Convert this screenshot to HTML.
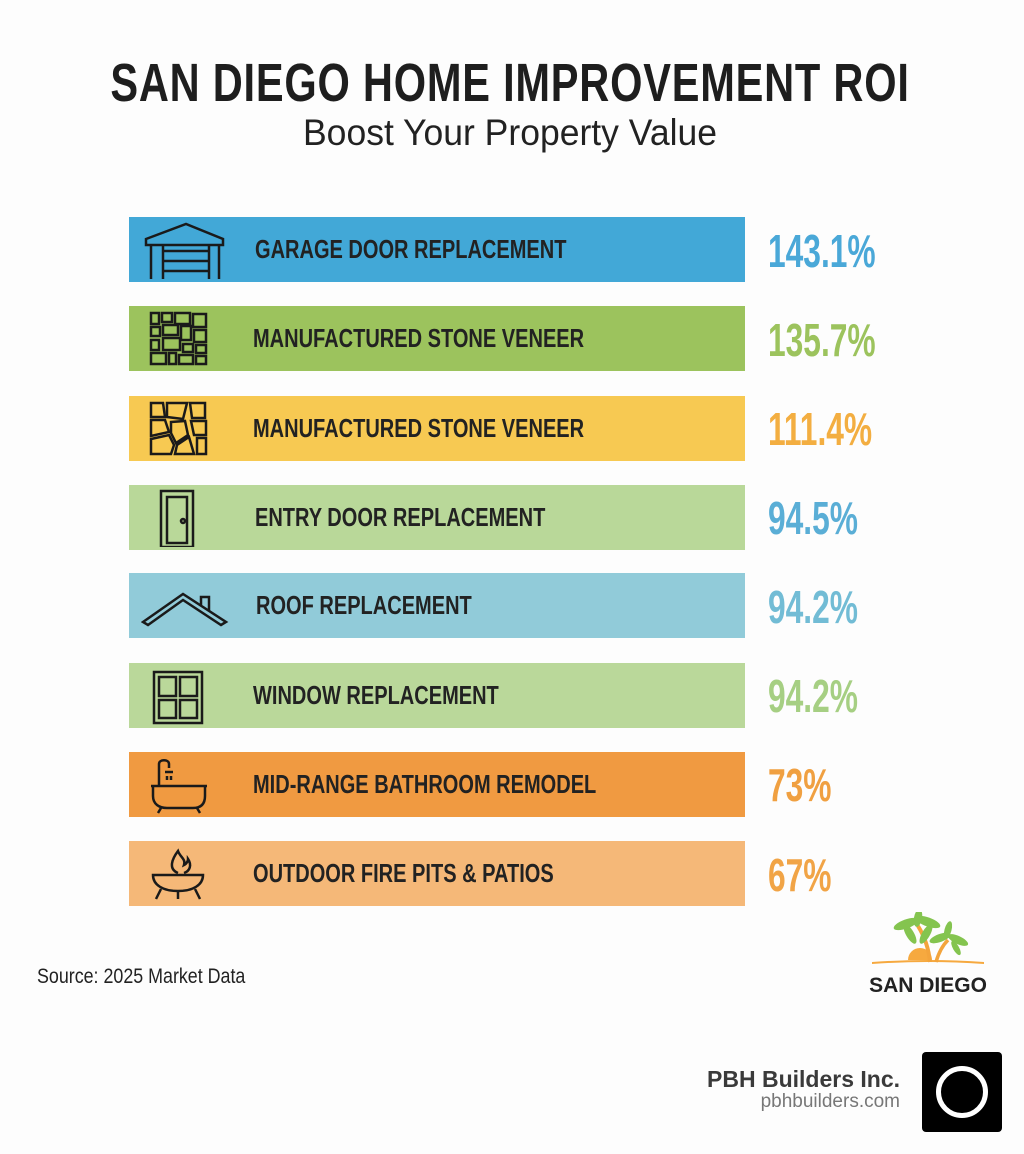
<!DOCTYPE html>
<html><head><meta charset="utf-8"><style>
body{margin:0;width:1024px;height:1154px;background:#fdfdfd;position:relative;overflow:hidden;font-family:"Liberation Sans",sans-serif}
.a{position:absolute;white-space:nowrap}
.t{left:510px;top:52px;font-size:54px;font-weight:bold;color:#1e1e1e;transform:translateX(-50%) scaleX(0.77);transform-origin:center;letter-spacing:1px}
.s{left:510px;top:112px;font-size:37px;color:#222;transform:translateX(-50%) scaleX(0.96)}
.bar{position:absolute;left:129px;width:616px;height:65px}
.lb{position:absolute;left:124px;top:17px;font-size:26px;font-weight:bold;color:#222;transform:scaleX(0.77);transform-origin:left}
.v{position:absolute;left:768px;font-size:46px;font-weight:bold;transform:scaleX(0.69);transform-origin:left}
.ic{position:absolute;left:12px;top:4px}
</style></head><body>
<div class="a t">SAN DIEGO HOME IMPROVEMENT ROI</div>
<div class="a s">Boost Your Property Value</div>

<div class="bar" style="top:217px;background:#42a8d7"><svg class="ic" width="90" height="58" viewBox="0 0 90 58" fill="none" stroke="#1a1a1a" stroke-width="2.5"><path d="M5 18 L45 3 L82 18 L82 24 L5 24 Z"/><path d="M10 24V60M22 24V60M68 24V60M78 24V60M22 30H68M22 40H68M22 50H68"/></svg><div class="lb" style="left:126px">GARAGE DOOR REPLACEMENT</div></div>
<div class="v" style="top:224px;color:#4aa8d8">143.1%</div>

<div class="bar" style="top:306px;background:#9cc35d"><svg class="ic" width="70" height="58" viewBox="0 0 70 58" fill="none" stroke="#1a1a1a" stroke-width="2.5"><rect x="10" y="3" width="8" height="11"/><rect x="21" y="3" width="10" height="9"/><rect x="34" y="3" width="15" height="11"/><rect x="52" y="4" width="13" height="13"/><rect x="10" y="17" width="9" height="9"/><rect x="22" y="15" width="15" height="10"/><rect x="40" y="16" width="10" height="14"/><rect x="53" y="20" width="12" height="12"/><rect x="10" y="30" width="8" height="10"/><rect x="22" y="28" width="17" height="12"/><rect x="42" y="34" width="10" height="8"/><rect x="55" y="35" width="10" height="8"/><rect x="10" y="43" width="15" height="11"/><rect x="28" y="43" width="7" height="11"/><rect x="38" y="45" width="14" height="9"/><rect x="55" y="46" width="10" height="8"/></svg><div class="lb">MANUFACTURED STONE VENEER</div></div>
<div class="v" style="top:313px;color:#9cc35d">135.7%</div>

<div class="bar" style="top:396px;background:#f7c952"><svg class="ic" width="70" height="58" viewBox="0 0 70 58" fill="none" stroke="#1a1a1a" stroke-width="2.5"><path d="M10 3h12l2 14h-14z"/><path d="M26 3h20l-4 16-16 -2z"/><path d="M49 3h15v15h-13z"/><path d="M10 20h14l4 12-18 4z"/><path d="M30 22l14-1 3 14-12 8-5-10z"/><path d="M50 21h15v14h-12z"/><path d="M10 39l18-4 5 10-3 9H10z"/><path d="M36 45l12-8 5 17H34z"/><path d="M56 38h9v16h-9z"/></svg><div class="lb">MANUFACTURED STONE VENEER</div></div>
<div class="v" style="top:402px;color:#f3ae41">111.4%</div>

<div class="bar" style="top:485px;background:#b9d899"><svg class="ic" width="70" height="58" viewBox="0 0 70 58" fill="none" stroke="#1a1a1a" stroke-width="2.5"><rect x="20" y="2" width="32" height="56"/><rect x="26" y="8" width="20" height="46"/><circle cx="42" cy="32" r="2"/></svg><div class="lb" style="left:126px">ENTRY DOOR REPLACEMENT</div></div>
<div class="v" style="top:491px;color:#5aaed6">94.5%</div>

<div class="bar" style="top:573px;background:#91cbd9"><svg class="ic" width="90" height="58" viewBox="0 0 90 58" fill="none" stroke="#1a1a1a" stroke-width="2.5"><path d="M2 45 L42 17 L85 45 L80 48 L42 23 L7 48 Z"/><path d="M60 28V20H68V34"/></svg><div class="lb" style="left:127px">ROOF REPLACEMENT</div></div>
<div class="v" style="top:580px;color:#72bcd5">94.2%</div>

<div class="bar" style="top:663px;background:#bad89a"><svg class="ic" width="70" height="58" viewBox="0 0 70 58" fill="none" stroke="#1a1a1a" stroke-width="2.5"><rect x="13" y="5" width="48" height="51"/><rect x="18" y="10" width="17" height="19"/><rect x="39" y="10" width="17" height="19"/><rect x="18" y="33" width="17" height="18"/><rect x="39" y="33" width="17" height="18"/></svg><div class="lb">WINDOW REPLACEMENT</div></div>
<div class="v" style="top:669px;color:#a6cf83">94.2%</div>

<div class="bar" style="top:752px;background:#f09a41"><svg class="ic" width="70" height="58" viewBox="0 0 70 58" fill="none" stroke="#1a1a1a" stroke-width="2.5"><path d="M10 30h56M12 30v10c0 8 6 12 14 12h26c8 0 12-4 12-12V30M20 52l-3 5M56 52l3 5M18 30V8c0-5 10-5 10 0v4"/><path d="M24 16h8M26 20v4M30 20v4"/></svg><div class="lb">MID-RANGE BATHROOM REMODEL</div></div>
<div class="v" style="top:758px;color:#f0a041">73%</div>

<div class="bar" style="top:841px;background:#f5b878"><svg class="ic" width="70" height="58" viewBox="0 0 70 58" fill="none" stroke="#1a1a1a" stroke-width="2.5"><path d="M12 30h50c0 10-10 16-25 16S12 40 12 30z"/><path d="M20 44l-5 10M54 44l5 10M37 46v8"/><path d="M37 28c-10-4-6-14 0-22 2 6 8 8 6 14 4-2 4-6 4-6 4 6 2 12-4 14"/></svg><div class="lb">OUTDOOR FIRE PITS &amp; PATIOS</div></div>
<div class="v" style="top:848px;color:#f1a446">67%</div>

<div class="a" style="left:37px;top:965px;font-size:21px;color:#222;transform:scaleX(0.85);transform-origin:left">Source: 2025 Market Data</div>

<svg class="a" style="left:868px;top:912px" width="120" height="85" viewBox="0 0 120 85">
<path d="M40 48a12 12 0 0 1 24 0z" fill="#f6a93f"/>
<path d="M4 50 Q60 46 116 50 L116 52 Q60 48 4 52z" fill="#f6a93f"/>
<path d="M62 50 Q60 30 50 14" stroke="#f3a43c" stroke-width="4" fill="none"/>
<path d="M68 50 Q72 36 80 28" stroke="#f3a43c" stroke-width="3.5" fill="none"/>
<g fill="#84c44f"><ellipse cx="38" cy="12" rx="13" ry="4.5" transform="rotate(-20 38 12)"/><ellipse cx="60" cy="10" rx="13" ry="4.5" transform="rotate(20 60 10)"/><ellipse cx="42" cy="22" rx="11" ry="4" transform="rotate(60 42 22)"/><ellipse cx="58" cy="22" rx="11" ry="4" transform="rotate(-60 58 22)"/><ellipse cx="50" cy="6" rx="9" ry="4" transform="rotate(-80 50 6)"/>
<ellipse cx="72" cy="26" rx="11" ry="4" transform="rotate(-20 72 26)"/><ellipse cx="90" cy="28" rx="11" ry="4" transform="rotate(25 90 28)"/><ellipse cx="80" cy="18" rx="9" ry="3.5" transform="rotate(-75 80 18)"/><ellipse cx="88" cy="36" rx="8" ry="3" transform="rotate(60 88 36)"/></g>
<text x="60" y="80" text-anchor="middle" font-family="Liberation Sans" font-weight="bold" font-size="21" fill="#222">SAN DIEGO</text></svg>

<div class="a" style="right:124px;top:1066px;font-size:23px;font-weight:bold;color:#3a3a3a">PBH Builders Inc.</div>
<div class="a" style="right:124px;top:1091px;font-size:19px;color:#777">pbhbuilders.com</div>
<div class="a" style="left:922px;top:1052px;width:80px;height:80px;background:#000;border-radius:4px"><div style="position:absolute;left:14px;top:14px;width:42px;height:42px;border:5px solid #fff;border-radius:50%"></div></div>
</body></html>
